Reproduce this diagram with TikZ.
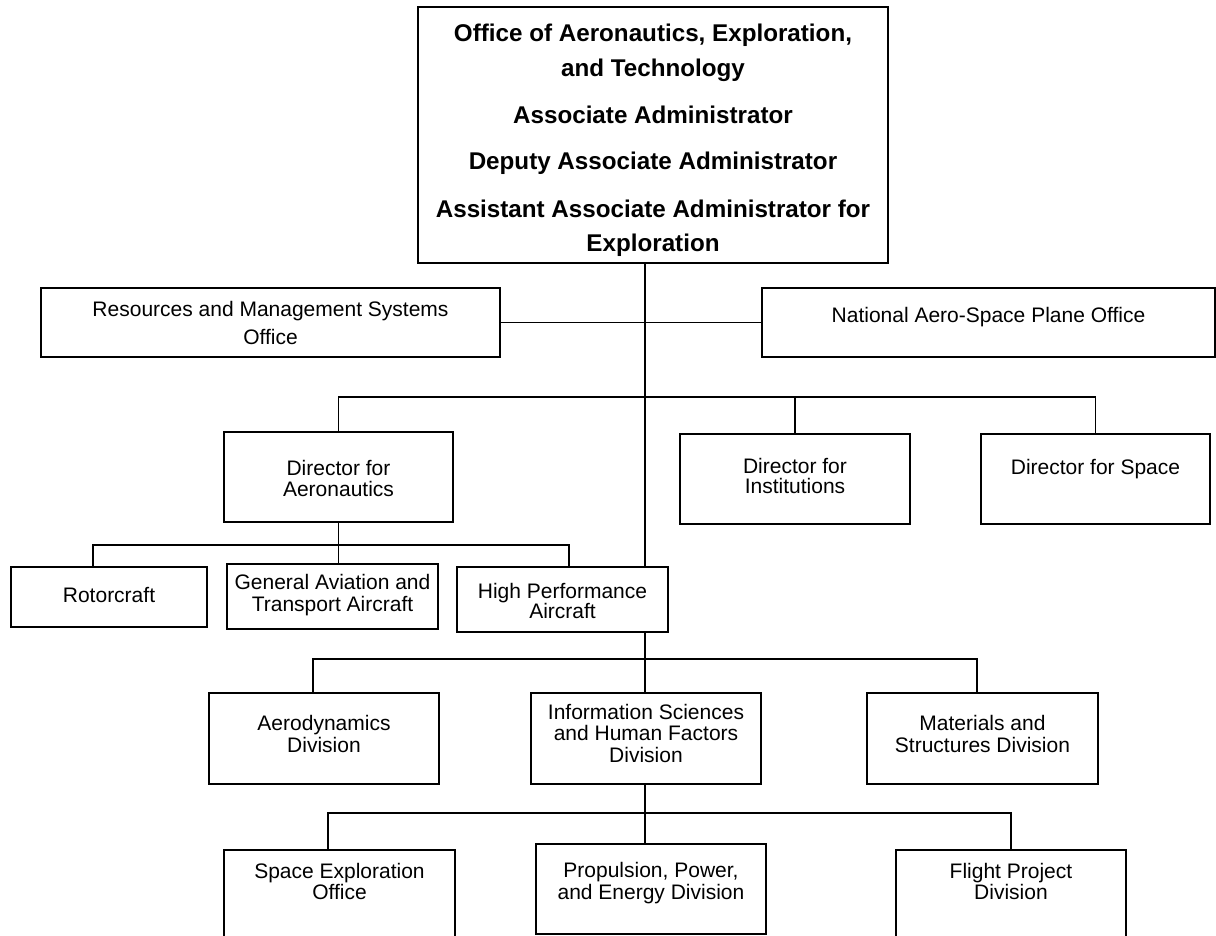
\documentclass[tikz,border=0pt]{standalone}
\usepackage{fontspec}
\setmainfont{Liberation Sans}
\begin{document}
\begin{tikzpicture}[x=1pt,y=-1pt,
  box/.style={draw, line width=1.8pt, rectangle, inner xsep=0pt, inner ysep=0pt, align=center, anchor=base},
  rg/.style={font=\fontsize{21}{#1}\selectfont},
  conn/.style={line width=1.6pt}]
\useasboundingbox (0,0) rectangle (1216,936);
% top box
\node[box, minimum width=470, text height=245, text depth=11,
  font=\fontsize{24.2}{35}\selectfont\bfseries] (top) at (653,252)
  {Office of Aeronautics, Exploration,\\and Technology\\[12pt]Associate Administrator\\[12pt]Deputy Associate Administrator\\[12pt]Assistant Associate Administrator for\\Exploration};
% staff offices
\node[box, rg=28, minimum width=459, text height=56, text depth=13] (res) at (270.5,344) {Resources and Management Systems\\Office};
\node[box, rg=28, minimum width=453, text height=34, text depth=35] (nasp) at (988.5,322) {National Aero-Space Plane Office};
% directors
\node[box, rg=21, minimum width=229, text height=64, text depth=26] (dira) at (338.5,496) {Director for\\Aeronautics};
\node[box, rg=20.5, minimum width=230, text height=59.5, text depth=30.5] (diri) at (795,493.5) {Director for\\Institutions};
\node[box, rg=21, minimum width=229, text height=40, text depth=50] (dirs) at (1095.5,474) {Director for Space};
% aeronautics programs
\node[box, rg=21, minimum width=196, text height=35, text depth=25] (rot) at (109,602) {Rotorcraft};
\node[box, rg=22, minimum width=211, text height=47, text depth=18] (ga) at (332.5,611) {General Aviation and\\Transport Aircraft};
\node[box, rg=20.5, minimum width=211, text height=51.5, text depth=13.5] (hpa) at (562.5,618.5) {High Performance\\Aircraft};
% divisions
\node[box, rg=22, minimum width=230, text height=59, text depth=32] (aer) at (324,752) {Aerodynamics\\Division};
\node[box, rg=21.5, minimum width=230, text height=69, text depth=22] (inf) at (646,762) {Information Sciences\\and Human Factors\\Division};
\node[box, rg=22, minimum width=231, text height=59, text depth=32] (mat) at (982.5,752) {Materials and\\Structures Division};
% bottom row
\node[box, rg=21, minimum width=231, text height=49, text depth=43] (seo) at (339.5,899) {Space Exploration\\Office};
\node[box, rg=22, minimum width=230, text height=55, text depth=35] (ppe) at (651,899) {Propulsion, Power,\\and Energy Division};
\node[box, rg=21, minimum width=230, text height=49, text depth=43] (fpd) at (1011,899) {Flight Project\\Division};
% junctions
\coordinate (jtop) at (645,322);
\coordinate (jdir) at (645,397);
\coordinate (jaer) at (338.5,545);
\coordinate (jdiv) at (645,659);
\coordinate (jbot) at (645,813);
% connectors
\draw[conn] (top.south -| jtop) -- (hpa.north -| jtop);
\draw[conn] (res.east) -- (nasp.west);
\draw[conn] (dira.north) |- (jdir) -| (dirs.north);
\draw[conn] (jdir -| diri.north) -- (diri.north);
\draw[conn] (dira.south) -- (jaer);
\draw[conn] ([xshift=-16pt]rot.north) |- (jaer) -| ([xshift=6.5pt]hpa.north);
\draw[conn] (jaer) -- (ga.north -| jaer);
\draw[conn] (hpa.south -| jdiv) -- (jdiv);
\draw[conn] ([xshift=-11pt]aer.north) |- (jdiv) -| ([xshift=-5.5pt]mat.north);
\draw[conn] (jdiv) -- (inf.north -| jdiv);
\draw[conn] (inf.south -| jbot) -- (jbot);
\draw[conn] ([xshift=-11.5pt]seo.north) |- (jbot) -| (fpd.north);
\draw[conn] (jbot) -- (ppe.north -| jbot);
\end{tikzpicture}
\end{document}
